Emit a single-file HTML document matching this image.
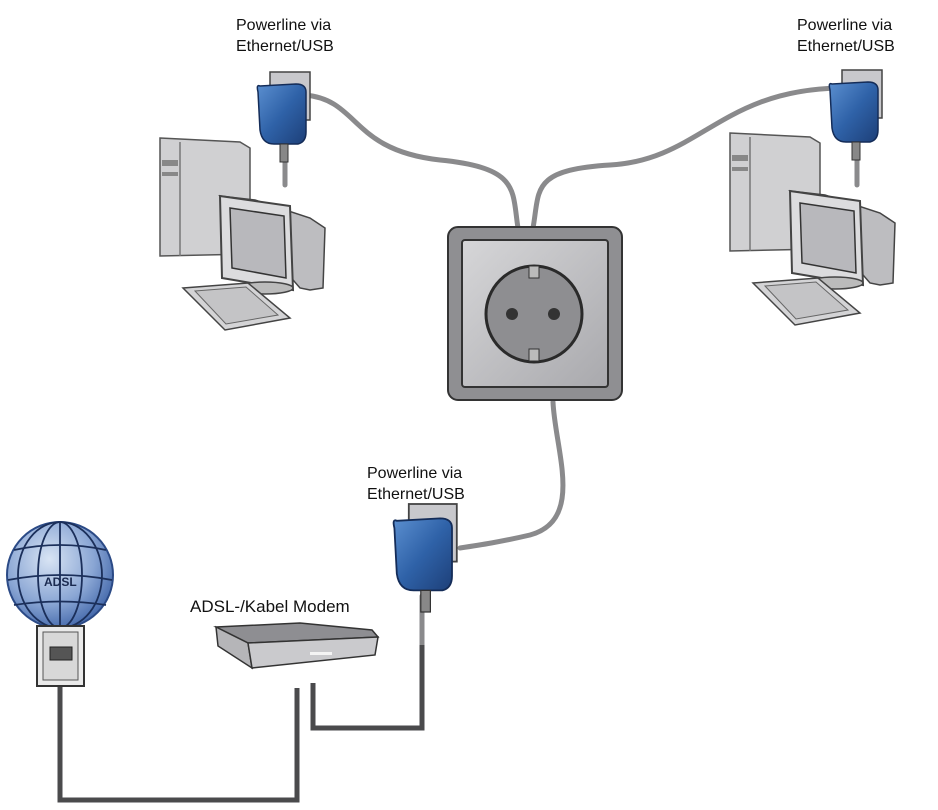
<!DOCTYPE html>
<html><head><style>
html,body{margin:0;padding:0;background:#fff;}
svg{display:block;}
text{font-family:"Liberation Sans",sans-serif;fill:#111;}
</style></head><body>
<svg width="938" height="810" viewBox="0 0 938 810" xmlns="http://www.w3.org/2000/svg">
<defs>
<linearGradient id="blue" x1="0" y1="0" x2="1" y2="1">
<stop offset="0" stop-color="#5b8fd0"/><stop offset="0.5" stop-color="#2f62a8"/><stop offset="1" stop-color="#1d3f78"/>
</linearGradient>
<radialGradient id="globe" cx="0.4" cy="0.35" r="0.7">
<stop offset="0" stop-color="#d8e4f4"/><stop offset="0.6" stop-color="#8aa6d4"/><stop offset="1" stop-color="#3f64a8"/>
</radialGradient>
<linearGradient id="metal" x1="0" y1="0" x2="1" y2="1">
<stop offset="0" stop-color="#d6d6d8"/><stop offset="1" stop-color="#a9a9ad"/>
</linearGradient>
<g id="pc">
<path d="M0,0 L80,4 L90,10 L90,116 L0,118 Z" fill="#d0d0d2" stroke="#555" stroke-width="1.5"/>
<path d="M20,4 L20,118" stroke="#777" stroke-width="1.5"/>
<rect x="2" y="22" width="16" height="6" fill="#888"/>
<rect x="2" y="34" width="16" height="4" fill="#888"/>
<path d="M60,58 L95,62 L150,80 L165,90 L163,150 L150,152 L140,150 Z" fill="#bdbdc0" stroke="#444" stroke-width="1.5"/>
<path d="M60,58 L130,68 L133,152 L62,140 Z" fill="#dcdcde" stroke="#444" stroke-width="2"/>
<path d="M70,70 L124,78 L126,140 L72,130 Z" fill="#b8b8bc" stroke="#333" stroke-width="1.5"/>
<ellipse cx="105" cy="150" rx="28" ry="6" fill="#bbb" stroke="#444" stroke-width="1.5"/>
<path d="M23,150 L88,145 L130,180 L65,192 Z" fill="#d4d4d6" stroke="#444" stroke-width="1.5"/>
<path d="M35,153 L86,149 L118,177 L66,186 Z" fill="#c4c4c6" stroke="#666" stroke-width="1"/>
</g>
<g id="adapter">
<rect x="14" y="0" width="40" height="48" fill="#c8c8cc" stroke="#444" stroke-width="1.5"/>
<path d="M4,14 Q0,12 2,20 L4,58 Q6,72 18,72 L42,72 Q50,70 50,60 L50,20 Q50,12 40,12 Z" fill="url(#blue)" stroke="#142c58" stroke-width="1.5"/>
<rect x="24" y="72" width="8" height="18" fill="#888" stroke="#333"/>
</g>
</defs>

<g fill="none" stroke="#8a8a8c" stroke-width="5" stroke-linecap="round">
<path d="M305,95 C360,100 350,150 440,160 C520,168 512,190 518,228"/>
<path d="M533,228 C540,190 530,170 610,165 C700,160 720,90 840,88"/>
<path d="M553,402 C555,450 585,520 530,535 C500,542 480,545 460,548"/>
<path d="M285,160 L285,185"/>
<path d="M857,160 L857,185"/>
<path d="M422,596 L422,645"/>
</g>
<g fill="none" stroke="#4a4a4c" stroke-width="5">
<path d="M60,678 L60,800 L297,800 L297,688"/>
<path d="M313,683 L313,728 L422,728 L422,645"/>
</g>

<use href="#pc" transform="translate(160,138)"/>
<use href="#pc" transform="translate(730,133)"/>
<use href="#adapter" transform="translate(256,72)"/>
<use href="#adapter" transform="translate(828,70)"/>
<use href="#adapter" transform="translate(392,504) scale(1.2)"/>

<rect x="448" y="227" width="174" height="173" rx="10" fill="#8f8f92" stroke="#333" stroke-width="2"/>
<rect x="462" y="240" width="146" height="147" rx="3" fill="url(#metal)" stroke="#333" stroke-width="2"/>
<circle cx="534" cy="314" r="48" fill="#8e8e91" stroke="#2a2a2a" stroke-width="3"/>
<rect x="529" y="266" width="10" height="12" fill="#bbb" stroke="#333"/>
<rect x="529" y="349" width="10" height="12" fill="#bbb" stroke="#333"/>
<circle cx="512" cy="314" r="6" fill="#333"/>
<circle cx="554" cy="314" r="6" fill="#333"/>

<!-- modem -->
<path d="M216,627 L300,623 L372,630 L378,637 L248,643 Z" fill="#8e8e92" stroke="#333" stroke-width="1.5"/>
<path d="M216,627 L248,643 L252,668 L218,646 Z" fill="#b5b5b8" stroke="#333" stroke-width="1.5"/>
<path d="M248,643 L378,637 L375,655 L252,668 Z" fill="#cacacd" stroke="#333" stroke-width="1.5"/>
<rect x="310" y="652" width="22" height="3" fill="#f4f4f4"/>

<circle cx="60" cy="575" r="53" fill="url(#globe)" stroke="#2b4a86" stroke-width="2"/>
<g fill="none" stroke="#1b2f5a" stroke-width="1.8">
<ellipse cx="60" cy="575" rx="22" ry="53"/>
<line x1="60" y1="522" x2="60" y2="628"/>
<ellipse cx="60" cy="575" rx="42" ry="53"/>
<path d="M14,550 Q60,540 106,550"/>
<path d="M8,580 Q60,570 112,580"/>
<path d="M14,605 Q60,598 106,605"/>
</g>
<text x="44" y="586" font-size="12" font-weight="bold" style="fill:#1a2a50">ADSL</text>

<rect x="37" y="626" width="47" height="60" fill="#eaeaea" stroke="#333" stroke-width="2"/>
<rect x="43" y="632" width="35" height="48" fill="#d8d8d8" stroke="#555"/>
<rect x="50" y="647" width="22" height="13" fill="#555" stroke="#222"/>

<text x="236" y="30" font-size="16">Powerline via</text>
<text x="236" y="51" font-size="16">Ethernet/USB</text>
<text x="797" y="30" font-size="16">Powerline via</text>
<text x="797" y="51" font-size="16">Ethernet/USB</text>
<text x="367" y="478" font-size="16">Powerline via</text>
<text x="367" y="499" font-size="16">Ethernet/USB</text>
<text x="190" y="612" font-size="17">ADSL-/Kabel Modem</text>
</svg>
</body></html>
